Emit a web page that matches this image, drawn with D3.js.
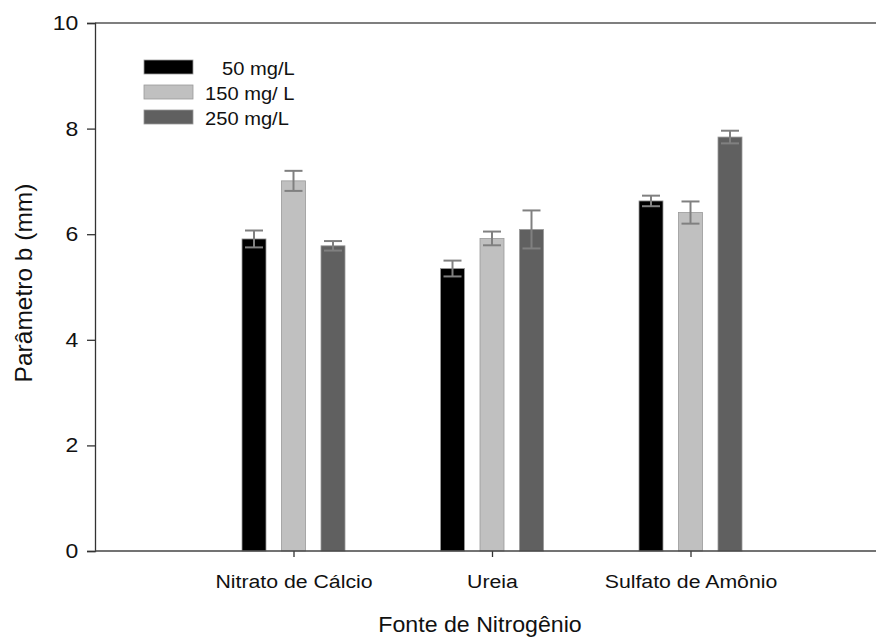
<!DOCTYPE html>
<html><head><meta charset="utf-8">
<script src="https://cdn.jsdelivr.net/npm/d3@7"></script>
<style>body{margin:0;background:#fff}svg{display:block;font-family:"Liberation Sans",Arial,sans-serif}</style>
</head><body><svg id="c" width="876" height="637"></svg>
<script>
const categories = ["Nitrato de Cálcio", "Ureia", "Sulfato de Amônio"];
const seriesNames = ["50 mg/L", "150 mg/ L", "250 mg/L"];
const seriesColors = ["#000000", "#c0c0c0", "#606060"];
const values50 = [5.91, 5.35, 6.63];
const values150 = [7.01, 5.92, 6.41];
const values250 = [5.78, 6.09, 7.84];
const err50 = [0.16, 0.15, 0.10];
const err150 = [0.19, 0.13, 0.21];
const err250 = [0.09, 0.36, 0.12];
const yTicks = [0, 2, 4, 6, 8, 10];

const series = [values50, values150, values250];
const errors = [err50, err150, err250];

const svg = d3.select("#c");
const plotLeft = 95, plotTop = 23, plotBottom = 551;
const x = d3.scaleLinear().domain([0, 4]).range([plotLeft, 889]);
const y = d3.scaleLinear().domain([0, 10]).range([plotBottom, plotTop]);
const offset = d3.scaleLinear().domain([0, 2]).range([-39.5, 39.5]);
const barW = 24;

series.forEach((vals, s) => {
  const g = svg.append("g");
  g.selectAll("rect").data(vals).enter().append("rect")
    .attr("x", (d, i) => x(i + 1) + offset(s) - barW / 2)
    .attr("y", d => y(d))
    .attr("width", barW)
    .attr("height", d => y(0) - y(d))
    .attr("fill", seriesColors[s])
    .attr("stroke", "#9a9a9a").attr("stroke-width", 0.8);
  vals.forEach((d, i) => {
    const cx = x(i + 1) + offset(s), e = errors[s][i];
    const eg = svg.append("g").attr("stroke", "#808080").attr("stroke-width", 2);
    eg.append("line").attr("x1", cx).attr("x2", cx).attr("y1", y(d + e)).attr("y2", y(d - e));
    eg.append("line").attr("x1", cx - 9).attr("x2", cx + 9).attr("y1", y(d + e)).attr("y2", y(d + e));
    eg.append("line").attr("x1", cx - 9).attr("x2", cx + 9).attr("y1", y(d - e)).attr("y2", y(d - e));
  });
});

svg.append("line").attr("x1", plotLeft).attr("x2", 876).attr("y1", plotTop).attr("y2", plotTop)
  .attr("stroke", "#555").attr("stroke-width", 1.5);

const yAxis = svg.append("g").attr("transform", `translate(${plotLeft},0)`)
  .call(d3.axisLeft(y).tickValues(yTicks).tickSize(8).tickPadding(6.5).tickFormat(d3.format("d")));
yAxis.select(".domain").attr("stroke", "#333").attr("stroke-width", 1.3);
yAxis.selectAll(".tick line").attr("stroke", "#333").attr("stroke-width", 1.3);
yAxis.selectAll("text").attr("font-size", 20).attr("fill", "#111")
  .attr("font-family", "Liberation Sans, Arial, sans-serif")
  .attr("transform", "scale(1.15,1)");

const xAxis = svg.append("g").attr("transform", `translate(0,${plotBottom})`)
  .call(d3.axisBottom(x).tickValues([1, 2, 3]).tickSize(6).tickPadding(0)
    .tickFormat(d => categories[d - 1]));
xAxis.select(".domain").remove();
svg.append("line").attr("x1", plotLeft).attr("x2", 876).attr("y1", plotBottom).attr("y2", plotBottom)
  .attr("stroke", "#444").attr("stroke-width", 1.5);
xAxis.selectAll(".tick line").attr("stroke", "#333").attr("stroke-width", 1.3);
xAxis.selectAll("text").attr("font-size", 19).attr("fill", "#111")
  .attr("font-family", "Liberation Sans, Arial, sans-serif")
  .attr("y", 37).attr("dy", null)
  .attr("transform", "scale(1.12,1)");

svg.append("text").attr("transform", "translate(480,632) scale(1.03,1)").attr("text-anchor", "middle")
  .attr("font-size", 22.5).attr("fill", "#111").text("Fonte de Nitrogênio");
svg.append("text").attr("transform", "translate(32,283) rotate(-90)").attr("text-anchor", "middle")
  .attr("font-size", 24.5).attr("fill", "#111").text("Parâmetro b (mm)");

const legendY = [67, 92, 117];
const legendTextX = [222, 205, 205];
seriesNames.forEach((n, s) => {
  svg.append("rect").attr("x", 144).attr("y", legendY[s] - 7).attr("width", 49).attr("height", 14)
    .attr("fill", seriesColors[s]).attr("stroke", "#9a9a9a").attr("stroke-width", 0.8);
  svg.append("text").attr("transform", `translate(${legendTextX[s]},${legendY[s] + 7.5}) scale(1.06,1)`)
    .attr("font-size", 19).attr("fill", "#111").text(n);
});
</script></body></html>
